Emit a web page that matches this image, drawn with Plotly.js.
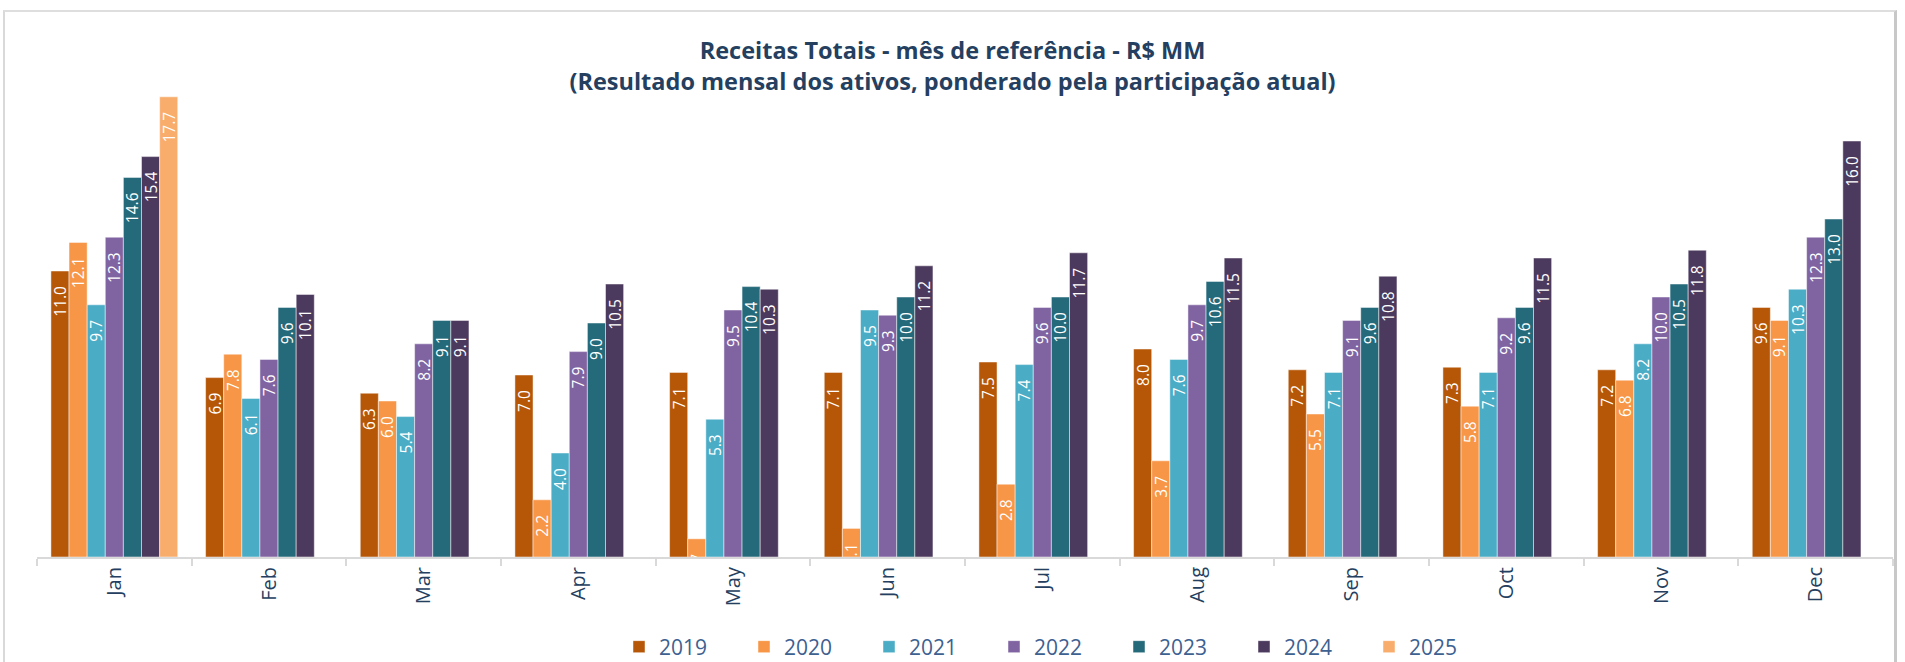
<!DOCTYPE html>
<html>
<head>
<meta charset="utf-8">
<script src="https://cdn.plot.ly/plotly-3.0.1.min.js"></script>
<style>
  html, body { margin: 0; padding: 0; background: #ffffff; }
  #wrap { position: relative; width: 1905px; height: 662px; overflow: hidden; }
  #chart { position: absolute; left: 0; top: 0; width: 1905px; height: 662px; }
  #frame { position: absolute; left: 3px; top: 10px; width: 1889px; height: 700px;
           border-left: 2px solid #d9d9d9; border-top: 2px solid #dedede; border-right: 3px solid #c8c8c8;
           pointer-events: none; }
</style>
</head>
<body>
<div id="wrap">
  <div id="chart"></div>
  <div id="frame"></div>
</div>
<script>
const months = ['Jan','Feb','Mar','Apr','May','Jun','Jul','Aug','Sep','Oct','Nov','Dec'];
const years  = ['2019','2020','2021','2022','2023','2024','2025'];

const v2019 = [11.0, 6.9, 6.3, 7.0, 7.1, 7.1, 7.5, 8.0, 7.2, 7.3, 7.2, 9.6];
const v2020 = [12.1, 7.8, 6.0, 2.2, 0.7, 1.1, 2.8, 3.7, 5.5, 5.8, 6.8, 9.1];
const v2021 = [9.7, 6.1, 5.4, 4.0, 5.3, 9.5, 7.4, 7.6, 7.1, 7.1, 8.2, 10.3];
const v2022 = [12.3, 7.6, 8.2, 7.9, 9.5, 9.3, 9.6, 9.7, 9.1, 9.2, 10.0, 12.3];
const v2023 = [14.6, 9.6, 9.1, 9.0, 10.4, 10.0, 10.0, 10.6, 9.6, 9.6, 10.5, 13.0];
const v2024 = [15.4, 10.1, 9.1, 10.5, 10.3, 11.2, 11.7, 11.5, 10.8, 11.5, 11.8, 16.0];
const v2025 = [17.7, null, null, null, null, null, null, null, null, null, null, null];

const seriesValues = [v2019, v2020, v2021, v2022, v2023, v2024, v2025];
const colors = ['#b65708', '#f79646', '#4bacc6', '#8064a2', '#256a7a', '#4c3a5e', '#f9ad6c'];

const NB = '\u00a0\u00a0\u00a0';

const traces = years.map((yr, i) => ({
  type: 'bar',
  name: yr,
  x: months,
  y: seriesValues[i],
  marker: { color: colors[i], line: { color: 'rgba(255,255,255,0.6)', width: 0.8 } },
  texttemplate: '%{y:.1f}' + NB,
  textposition: 'inside',
  insidetextanchor: 'end',
  textangle: -90,
  constraintext: 'none',
  cliponaxis: true,
  insidetextfont: { family: 'Open Sans, sans-serif', size: 15.5, color: '#ffffff' },
  hoverinfo: 'x+y+name'
}));

const layout = {
  width: 1905,
  height: 662,
  paper_bgcolor: 'rgba(0,0,0,0)',
  plot_bgcolor: 'rgba(0,0,0,0)',
  margin: { l: 37, r: 12, t: 37, b: 105 },
  barmode: 'group',
  bargap: 0.18,
  bargroupgap: 0,
  title: {
    text: 'Receitas Totais - mês de referência - R$ MM<br>(Resultado mensal dos ativos, ponderado pela participação atual)',
    font: { family: 'Open Sans, sans-serif', size: 23.5, weight: 700, color: '#243f60' },
    x: 0.5, xref: 'container', xanchor: 'center',
    y: 1 - 59 / 662, yref: 'container', yanchor: 'middle'
  },
  xaxis: {
    type: 'category',
    showline: true, linecolor: '#d9d9d9', linewidth: 2,
    ticks: 'outside', tickson: 'boundaries', ticklen: 7, tickwidth: 2, tickcolor: '#d9d9d9',
    tickangle: -90,
    tickfont: { family: 'Open Sans, sans-serif', size: 20, color: '#243f60' },
    showgrid: false, zeroline: false, fixedrange: true
  },
  yaxis: {
    range: [0, 20], visible: false, showgrid: false, zeroline: false, fixedrange: true
  },
  showlegend: true,
  legend: {
    orientation: 'h',
    xref: 'container', x: 619 / 1905, xanchor: 'left',
    yref: 'container', y: 1 - 647 / 662, yanchor: 'middle',
    entrywidth: 80, entrywidthmode: 'pixels',
    font: { family: 'Open Sans, sans-serif', size: 21, color: '#3d6190' },
    bgcolor: 'rgba(0,0,0,0)', traceorder: 'normal'
  }
};

Plotly.newPlot('chart', traces, layout, { displayModeBar: false, staticPlot: true });
</script>
</body>
</html>
